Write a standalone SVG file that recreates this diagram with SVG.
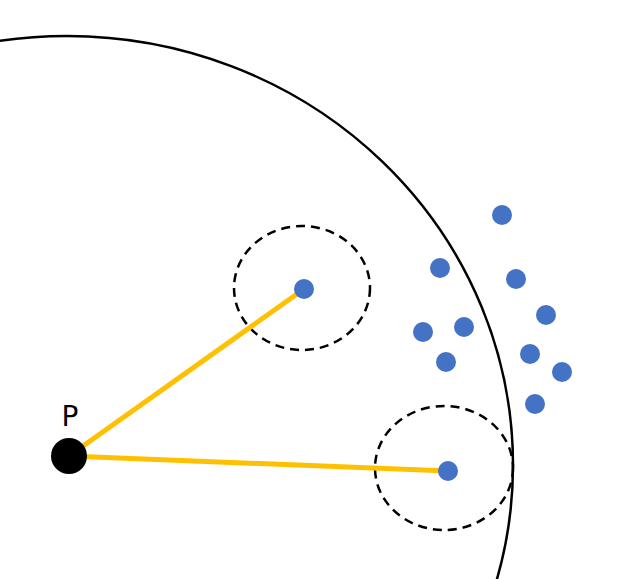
<svg xmlns="http://www.w3.org/2000/svg" width="623" height="579" viewBox="0 0 623 579">
<style>.d{fill:#4472C4}.c{fill:none;stroke:#000;stroke-width:2.5;stroke-dasharray:9 6}.l{stroke:#FFC000;stroke-width:5;fill:none}</style>
<rect width="623" height="579" fill="#fff"/>
<ellipse cx="67" cy="465" rx="446" ry="429" fill="none" stroke="#000" stroke-width="2.5"/>
<ellipse class="c" cx="302" cy="288" rx="68" ry="62"/>
<ellipse class="c" cx="444" cy="468" rx="69" ry="62"/>
<g id="connectors"><line class="l" x1="69" y1="456" x2="304" y2="289"/><line class="l" x1="69" y1="456" x2="448" y2="471"/></g>
<g id="dots">
<circle class="d" cx="502" cy="215" r="10"/><circle class="d" cx="440" cy="268" r="10"/><circle class="d" cx="516" cy="279" r="10"/><circle class="d" cx="546" cy="315" r="10"/><circle class="d" cx="423" cy="332" r="10"/><circle class="d" cx="464" cy="327" r="10"/><circle class="d" cx="446" cy="362" r="10"/><circle class="d" cx="530" cy="354" r="10"/><circle class="d" cx="562" cy="372" r="10"/><circle class="d" cx="535" cy="404" r="10"/><circle class="d" cx="304" cy="289" r="10"/><circle class="d" cx="448" cy="471" r="10"/>
</g>
<g id="P"><circle cx="69" cy="456" r="18" fill="#000"/><text x="70" y="426" font-family="DejaVu Sans, sans-serif" font-size="28" text-anchor="middle">P</text></g>
</svg>
